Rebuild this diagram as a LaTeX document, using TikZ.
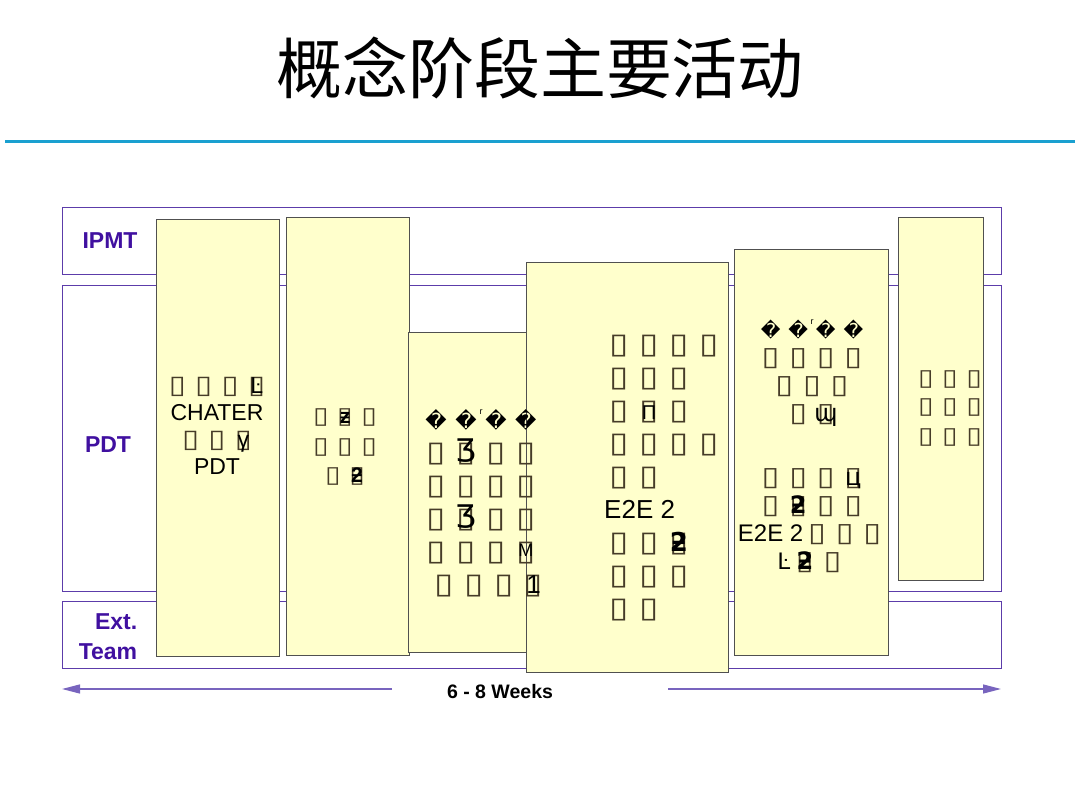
\documentclass[tikz,border=0pt]{standalone}
\usepackage{fontspec}
\setmainfont{Liberation Sans}
\newfontfamily\tofufont{DejaVu Sans}
\newfontfamily\cjkfont{Noto Sans CJK SC}
\usetikzlibrary{arrows.meta}
\definecolor{lanec}{RGB}{92,60,170}
\definecolor{lblc}{RGB}{64,16,160}
\definecolor{boxfill}{RGB}{255,255,204}
\definecolor{boxedge}{RGB}{80,80,80}
\definecolor{rulec}{RGB}{26,160,208}
\definecolor{arrc}{RGB}{120,100,190}
\definecolor{tofuc}{RGB}{70,60,40}
\newcommand\tf{\makebox[1.15em][c]{\color{tofuc}\tofufont\scalebox{1.35}[1.1]{▯}}}
\newcommand\ovl[1]{\makebox[0pt][l]{\tf}\makebox[1.15em][c]{#1}}
\newcommand\qm{\makebox[1.15em][c]{\tofufont\scalebox{0.8}{�}}}
\newcommand\sr{\makebox[0pt][c]{\raisebox{0.55em}{\fontsize{9}{9}\selectfont r}}}
\begin{document}
\begin{tikzpicture}[x=1pt,y=-1pt,
  lane/.style={draw=lanec,line width=1pt},
  actbox/.style={draw=boxedge,fill=boxfill,line width=0.9pt},
  lanelbl/.style={font=\fontsize{23}{30}\selectfont\bfseries,text=lblc,align=right,inner sep=0pt},
  btxt/.style={align=center,text=black,inner sep=0pt},
  arr/.style={draw=arrc,line width=1.3pt,-{Triangle[length=18pt,width=9pt]}}]
\useasboundingbox (0,0) rectangle (1080,810);
% title
\node[font=\fontsize{66}{70}\selectfont\cjkfont] (title) at (540,68) {概念阶段主要活动};
\coordinate (r1) at (5,142);
\coordinate (r2) at (1075,142);
\draw[rulec,line width=3pt] (r1) -- (r2);
% lanes
\draw[lane] (62,208) rectangle (1001,275);
\draw[lane] (62,286) rectangle (1001,591);
\draw[lane] (62,601) rectangle (1001,668);
\node[lanelbl] (lipmt) at (110,241) {IPMT};
\node[lanelbl] (lpdt) at (108,445) {PDT};
\node[lanelbl] (lext) at (108,637) {Ext.\\Team};
% activity boxes
\draw[actbox] (156,219) rectangle (279,656);
\draw[actbox] (286,217) rectangle (409,655);
\draw[actbox] (408,332) rectangle (560,652);
\draw[actbox] (526,262) rectangle (728,672);
\draw[actbox] (734,249) rectangle (888,655);
\draw[actbox] (898,217) rectangle (983,580);
% texts
\node[btxt,font=\fontsize{23}{27}\selectfont] (t1) at (217,426)
  {\tf\tf\tf\ovl{Ŀ}\\CHATER\\\tf\tf\ovl{γ}\\PDT};
\node[btxt,font=\fontsize{21}{29.5}\selectfont] (t2) at (345,447)
  {\tf\ovl{\textbf{ƶ}}\tf\\\tf\tf\tf\\\tf\ovl{\textbf{ƻ}}};
\node[btxt,font=\fontsize{26}{33}\selectfont] (t3) at (481,503)
  {\qm\qm\sr\qm\qm\\\tf\ovl{\tofufont\scalebox{1.2}{Ʒ}}\tf\tf\\\tf\tf\tf\tf\\\tf\ovl{\tofufont\scalebox{1.2}{Ʒ}}\tf\tf\\\tf\tf\tf\ovl{\raisebox{0.15em}{\fontsize{18}{18}\selectfont M}}\\\hspace{0.6em}\tf\tf\tf\ovl{1}};
\node[btxt,align=left,anchor=west,font=\fontsize{26}{33}\selectfont] (t4) at (604,478)
  {\tf\tf\tf\tf\\\tf\tf\tf\\\tf\ovl{\fontsize{20}{20}\selectfont Π}\tf\\\tf\tf\tf\tf\\\tf\tf\\E2E 2\\\tf\tf\ovl{\tofufont\textbf{ƻ}}\\\tf\tf\tf\\\tf\tf};
\node[btxt,font=\fontsize{24}{28}\selectfont] (t5) at (812,446)
  {\qm\qm\sr\qm\qm\\\tf\tf\tf\tf\\\tf\tf\tf\\\tf\ovl{\tofufont ɰ}\\[36pt]\tf\tf\tf\ovl{\tofufont ц}\\\tf\ovl{\tofufont\textbf{ƻ}}\tf\tf\\E2E 2\tf\tf\tf\\Ŀ\ovl{\tofufont\textbf{ƻ}}\tf};
\node[btxt,font=\fontsize{21}{29}\selectfont] (t6) at (950,408)
  {\tf\tf\tf\\\tf\tf\tf\\\tf\tf\tf};
% duration arrow
\coordinate (aL) at (62,689);
\coordinate (aLs) at (392,689);
\coordinate (aR) at (1001,689);
\coordinate (aRs) at (668,689);
\draw[arr] (aLs) -- (aL);
\draw[arr] (aRs) -- (aR);
\node[font=\fontsize{19.5}{22}\selectfont\bfseries,inner sep=0pt] (wk) at (500,692) {6 - 8 Weeks};
\end{tikzpicture}
\end{document}
